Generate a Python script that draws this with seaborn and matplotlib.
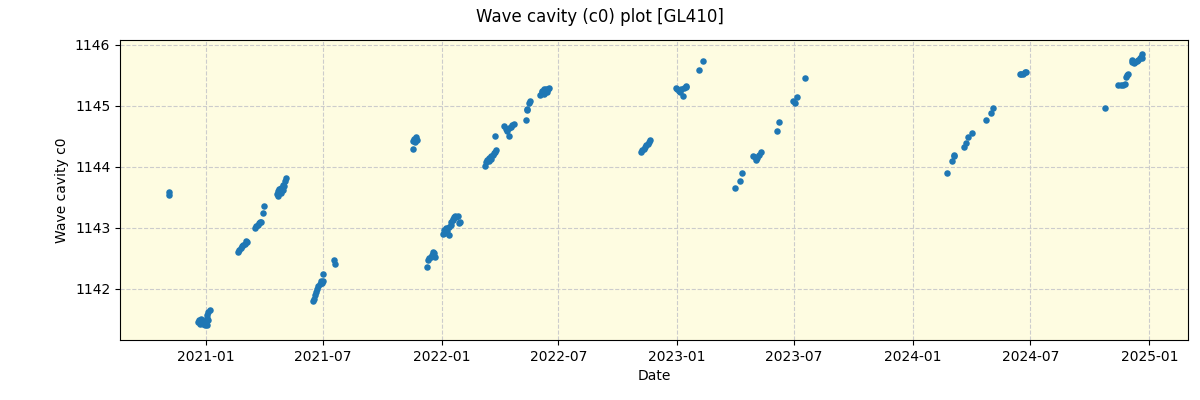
import matplotlib.pyplot as plt
import matplotlib.dates as mdates
import pandas as pd
import seaborn as sns

dates_2020_21 = ['2020-11-05', '2020-11-05',
                 '2020-12-20', '2020-12-22', '2020-12-23', '2020-12-25', '2020-12-27', '2020-12-29',
                 '2020-12-30', '2021-01-01', '2021-01-02', '2021-01-03', '2021-01-03', '2021-01-04',
                 '2021-01-05', '2021-01-07',
                 '2021-02-20', '2021-02-22', '2021-02-24', '2021-02-26', '2021-02-28', '2021-03-02',
                 '2021-03-04', '2021-03-06',
                 '2021-03-18', '2021-03-20', '2021-03-22', '2021-03-24', '2021-03-26', '2021-03-28',
                 '2021-03-30', '2021-04-01',
                 '2021-04-21', '2021-04-22', '2021-04-23', '2021-04-24', '2021-04-25', '2021-04-27',
                 '2021-04-28', '2021-04-30', '2021-05-01', '2021-05-02', '2021-05-04', '2021-05-05',
                 '2021-06-16', '2021-06-17', '2021-06-19', '2021-06-21', '2021-06-22', '2021-06-24',
                 '2021-06-26', '2021-06-28', '2021-06-30', '2021-07-01', '2021-07-02',
                 '2021-07-18', '2021-07-20']
c0_2020_21 = [1143.58, 1143.54,
              1141.45, 1141.48, 1141.43, 1141.50, 1141.42, 1141.47,
              1141.40, 1141.45, 1141.52, 1141.57, 1141.40, 1141.48,
              1141.62, 1141.66,
              1142.61, 1142.64, 1142.67, 1142.70, 1142.72, 1142.74,
              1142.78, 1142.76,
              1143.00, 1143.03, 1143.05, 1143.08, 1143.10, 1143.09,
              1143.24, 1143.36,
              1143.55, 1143.60, 1143.52, 1143.58, 1143.63, 1143.57,
              1143.65, 1143.62, 1143.70, 1143.68, 1143.76, 1143.82,
              1141.80, 1141.84, 1141.90, 1141.95, 1142.00, 1142.05,
              1142.08, 1142.12, 1142.10, 1142.13, 1142.24,
              1142.48, 1142.40]

dates_2021_22 = ['2021-11-17', '2021-11-18', '2021-11-19', '2021-11-21', '2021-11-23', '2021-11-24',
                 '2021-12-10', '2021-12-11', '2021-12-13', '2021-12-15', '2021-12-17', '2021-12-19',
                 '2021-12-21', '2021-12-22',
                 '2022-01-03', '2022-01-05', '2022-01-06', '2022-01-08', '2022-01-10', '2022-01-12',
                 '2022-01-13', '2022-01-15', '2022-01-16', '2022-01-18', '2022-01-19', '2022-01-21',
                 '2022-01-22', '2022-01-24', '2022-01-26', '2022-01-28', '2022-01-30',
                 '2022-03-10', '2022-03-11', '2022-03-13', '2022-03-15', '2022-03-16', '2022-03-18',
                 '2022-03-19', '2022-03-21', '2022-03-23', '2022-03-25', '2022-03-26', '2022-03-24',
                 '2022-04-08', '2022-04-11', '2022-04-13', '2022-04-15', '2022-04-16', '2022-04-18',
                 '2022-04-20', '2022-04-23',
                 '2022-05-11', '2022-05-13', '2022-05-14', '2022-05-17', '2022-05-18',
                 '2022-06-03', '2022-06-05', '2022-06-06', '2022-06-08', '2022-06-09', '2022-06-11',
                 '2022-06-12', '2022-06-13', '2022-06-15', '2022-06-17']
c0_2021_22 = [1144.42, 1144.30, 1144.45, 1144.40, 1144.49, 1144.44,
              1142.36, 1142.47, 1142.50, 1142.52, 1142.55, 1142.60,
              1142.58, 1142.52,
              1142.90, 1142.97, 1142.92, 1143.00, 1142.95, 1142.88,
              1143.02, 1143.05, 1143.10, 1143.15, 1143.12, 1143.18,
              1143.20, 1143.17, 1143.20, 1143.08, 1143.10,
              1144.02, 1144.08, 1144.12, 1144.10, 1144.15, 1144.18,
              1144.13, 1144.20, 1144.22, 1144.25, 1144.27, 1144.50,
              1144.67, 1144.62, 1144.58, 1144.50, 1144.63, 1144.65,
              1144.68, 1144.70,
              1144.77, 1144.93, 1144.95, 1145.05, 1145.08,
              1145.18, 1145.22, 1145.25, 1145.20, 1145.28, 1145.24,
              1145.28, 1145.22, 1145.27, 1145.29]

dates_2022_23 = ['2022-11-06', '2022-11-08', '2022-11-10', '2022-11-12', '2022-11-14', '2022-11-16',
                 '2022-11-18', '2022-11-20',
                 '2022-12-30', '2023-01-01', '2023-01-03', '2023-01-05', '2023-01-07', '2023-01-10',
                 '2023-01-12', '2023-01-14', '2023-01-15',
                 '2023-02-04', '2023-02-10',
                 '2023-04-01', '2023-04-08', '2023-04-12',
                 '2023-04-28', '2023-05-01', '2023-05-03', '2023-05-05', '2023-05-07', '2023-05-10',
                 '2023-06-05', '2023-06-08',
                 '2023-06-29', '2023-07-02', '2023-07-06', '2023-07-18']
c0_2022_23 = [1144.25, 1144.28, 1144.30, 1144.33, 1144.36, 1144.38,
              1144.41, 1144.44,
              1145.30, 1145.27, 1145.25, 1145.22, 1145.28, 1145.16,
              1145.30, 1145.33, 1145.31,
              1145.58, 1145.73,
              1143.65, 1143.77, 1143.90,
              1144.18, 1144.16, 1144.11, 1144.15, 1144.19, 1144.24,
              1144.59, 1144.73,
              1145.08, 1145.04, 1145.14, 1145.45]

dates_2024 = ['2024-02-22', '2024-03-01', '2024-03-04', '2024-03-05', '2024-03-20', '2024-03-23',
              '2024-03-27', '2024-04-02', '2024-04-23', '2024-05-01', '2024-05-04',
              '2024-06-15', '2024-06-17', '2024-06-20', '2024-06-23', '2024-06-24',
              '2024-10-25',
              '2024-11-13', '2024-11-19', '2024-11-22', '2024-11-24', '2024-11-26', '2024-11-27',
              '2024-11-29',
              '2024-12-05', '2024-12-06', '2024-12-08', '2024-12-10', '2024-12-13', '2024-12-15',
              '2024-12-17', '2024-12-19', '2024-12-20', '2024-12-21']
c0_2024 = [1143.90, 1144.09, 1144.17, 1144.19, 1144.32, 1144.39,
           1144.49, 1144.55, 1144.77, 1144.88, 1144.96,
           1145.52, 1145.53, 1145.52, 1145.55, 1145.56,
           1144.96,
           1145.34, 1145.34, 1145.35, 1145.36, 1145.48, 1145.50,
           1145.53,
           1145.75, 1145.72, 1145.70, 1145.72, 1145.74, 1145.76,
           1145.78, 1145.80, 1145.85, 1145.79]

df = pd.DataFrame({
    'Date': pd.to_datetime(dates_2020_21 + dates_2021_22 + dates_2022_23 + dates_2024),
    'c0': c0_2020_21 + c0_2021_22 + c0_2022_23 + c0_2024,
})

fig, ax = plt.subplots(figsize=(12, 4), dpi=100)
fig.subplots_adjust(left=0.1, right=0.99, top=0.9, bottom=0.15)

ax.set_facecolor('#fefce1')
ax.grid(True, color='#cccccc', linestyle='--', linewidth=0.8)
ax.set_axisbelow(True)

sns.scatterplot(data=df, x='Date', y='c0', ax=ax, color='#1f77b4', s=22, linewidth=0)

ax.set_xlim(pd.Timestamp('2020-08-21'), pd.Timestamp('2025-03-02'))
ax.set_ylim(1141.16, 1146.08)
ax.xaxis.set_major_locator(mdates.MonthLocator(bymonth=[1, 7]))
ax.xaxis.set_major_formatter(mdates.DateFormatter('%Y-%m'))
ax.ticklabel_format(axis='y', useOffset=False)

ax.set_xlabel('Date')
ax.set_ylabel('Wave cavity c0')
fig.suptitle('Wave cavity (c0) plot [GL410]')

fig.savefig('out.png')
